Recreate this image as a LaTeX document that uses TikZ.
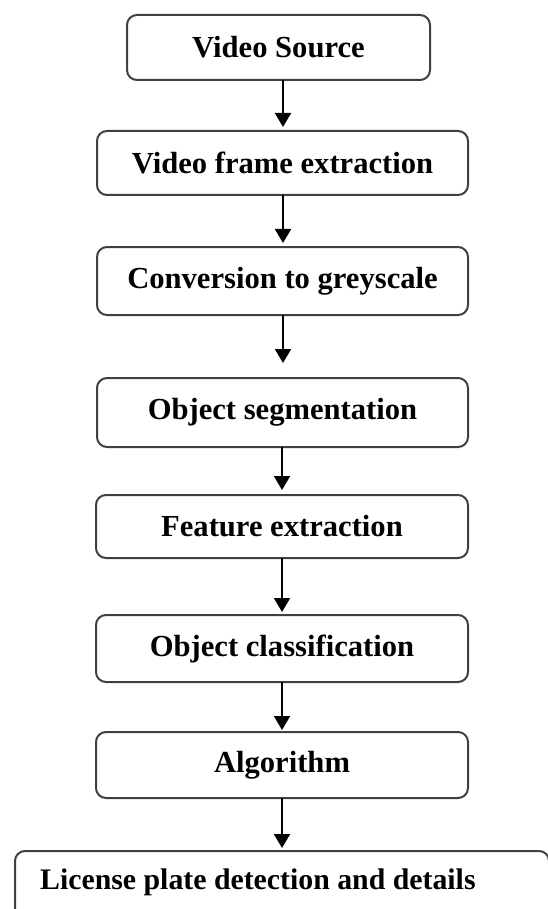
\documentclass[tikz,border=0pt]{standalone}
\usepackage{fontspec}
\setmainfont{Liberation Serif}
\usetikzlibrary{arrows.meta}
\begin{document}
\begin{tikzpicture}[x=1pt,y=-1pt,
  box/.style={draw=black!75,line width=2pt,rounded corners=10pt},
  lbl/.style={font=\fontsize{30.6}{36}\selectfont\bfseries,inner sep=0pt},
  arr/.style={-{Triangle[width=16pt,length=14pt]},line width=2pt,black}]
\useasboundingbox (0,0) rectangle (548,909);
\fill[white] (0,0) rectangle (548,909);
\draw[box] (127,15) rectangle (430,80);
\node[lbl] (n1) at (278.5,47.5) {Video Source};
\draw[box] (97,131) rectangle (468,195);
\node[lbl] (n2) at (282.5,163) {Video frame extraction};
\draw[box] (97,247) rectangle (468,315);
\node[lbl] (n3) at (282.5,281) {Conversion to greyscale};
\draw[box] (97,378) rectangle (468,447);
\node[lbl] (n4) at (282.5,412.5) {Object segmentation};
\draw[box] (96,495) rectangle (468,558);
\node[lbl] (n5) at (282,526.5) {Feature extraction};
\draw[box] (96,615) rectangle (468,682);
\node[lbl] (n6) at (282,648.5) {Object classification};
\draw[box] (96,732) rectangle (468,798);
\node[lbl] (n7) at (282,765) {Algorithm};
\draw[box] (15,851) rectangle (549,930);
\node[lbl,font=\fontsize{29.8}{36}\selectfont\bfseries,anchor=west] (n8) at (40,882) {License plate detection and details};
\coordinate (b1) at (283,80);  \coordinate (t2) at (283,127);
\coordinate (b2) at (283,195); \coordinate (t3) at (283,243);
\coordinate (b3) at (283,315); \coordinate (t4) at (283,363);
\coordinate (b4) at (282,447); \coordinate (t5) at (282,490);
\coordinate (b5) at (282,558); \coordinate (t6) at (282,612);
\coordinate (b6) at (282,682); \coordinate (t7) at (282,730);
\coordinate (b7) at (282,798); \coordinate (t8) at (282,848);
\draw[arr] (b1) -- (t2);
\draw[arr] (b2) -- (t3);
\draw[arr] (b3) -- (t4);
\draw[arr] (b4) -- (t5);
\draw[arr] (b5) -- (t6);
\draw[arr] (b6) -- (t7);
\draw[arr] (b7) -- (t8);
\end{tikzpicture}
\end{document}
